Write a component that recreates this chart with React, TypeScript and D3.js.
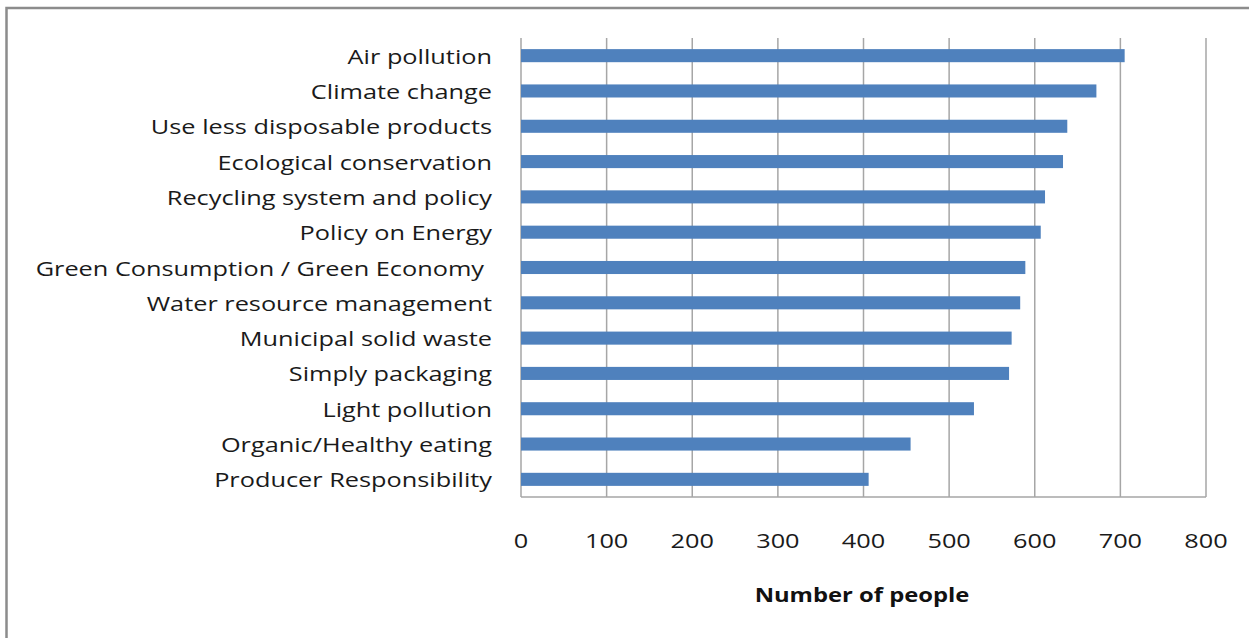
import React from "react";
import * as d3 from "d3";

const categories = [
  "Air pollution",
  "Climate change",
  "Use less disposable products",
  "Ecological conservation",
  "Recycling system and policy",
  "Policy on Energy",
  "Green Consumption / Green Economy ",
  "Water resource management",
  "Municipal solid waste",
  "Simply packaging",
  "Light pollution",
  "Organic/Healthy eating",
  "Producer Responsibility",
];
const values = [705, 672, 638, 633, 612, 607, 589, 583, 573, 570, 529, 455, 406];
const xTicks = [0, 100, 200, 300, 400, 500, 600, 700, 800];
const axisTitle = "Number of people";

const W = 1249;
const H = 638;
const FONT = "'Open Sans', 'DejaVu Sans', sans-serif";
const SX = 1.235;

export default function App() {
  const x = d3.scaleLinear().domain([0, 800]).range([521, 1206]);
  const y = d3.scaleBand<string>().domain(categories).range([38, 497]).paddingInner(0.63).paddingOuter(0.315);
  const bw = y.bandwidth();
  return (
    <svg width={W} height={H} style={{ position: "absolute", left: 0, top: 0, background: "#fff" }}>
      <rect x={6.5} y={8} width={1300} height={700} fill="#fff" stroke="#8c8c8c" strokeWidth={2.5} />
      {xTicks.map((t) => (
        <line key={"g" + t} x1={x(t)} x2={x(t)} y1={38} y2={497} stroke="#a6a6a6" strokeWidth={1.5} />
      ))}
      <line x1={x(0)} x2={x(800)} y1={497} y2={497} stroke="#a6a6a6" strokeWidth={1.5} />
      {categories.map((c, i) => (
        <rect key={c} x={x(0)} y={y(c)!} width={x(values[i]) - x(0)} height={bw} fill="#4f81bd" />
      ))}
      {categories.map((c) => (
        <g key={"l" + c} transform={`translate(${c.endsWith(" ") ? 484 : 492},${y(c)! + bw / 2}) scale(${SX},1)`}>
          <text textAnchor="end" dominantBaseline="central" fontFamily={FONT} fontSize={20.5} fill="#1a1a1a">
            {c.trimEnd()}
          </text>
        </g>
      ))}
      {xTicks.map((t) => (
        <g key={"t" + t} transform={`translate(${x(t)},540) scale(${SX},1)`}>
          <text textAnchor="middle" dominantBaseline="central" fontFamily={FONT} fontSize={20.5} fill="#1a1a1a">
            {t}
          </text>
        </g>
      ))}
      <g transform={`translate(862,594) scale(1.19,1)`}>
        <text textAnchor="middle" dominantBaseline="central" fontFamily={FONT} fontSize={20} fontWeight="bold" fill="#111">
          {axisTitle}
        </text>
      </g>
    </svg>
  );
}
